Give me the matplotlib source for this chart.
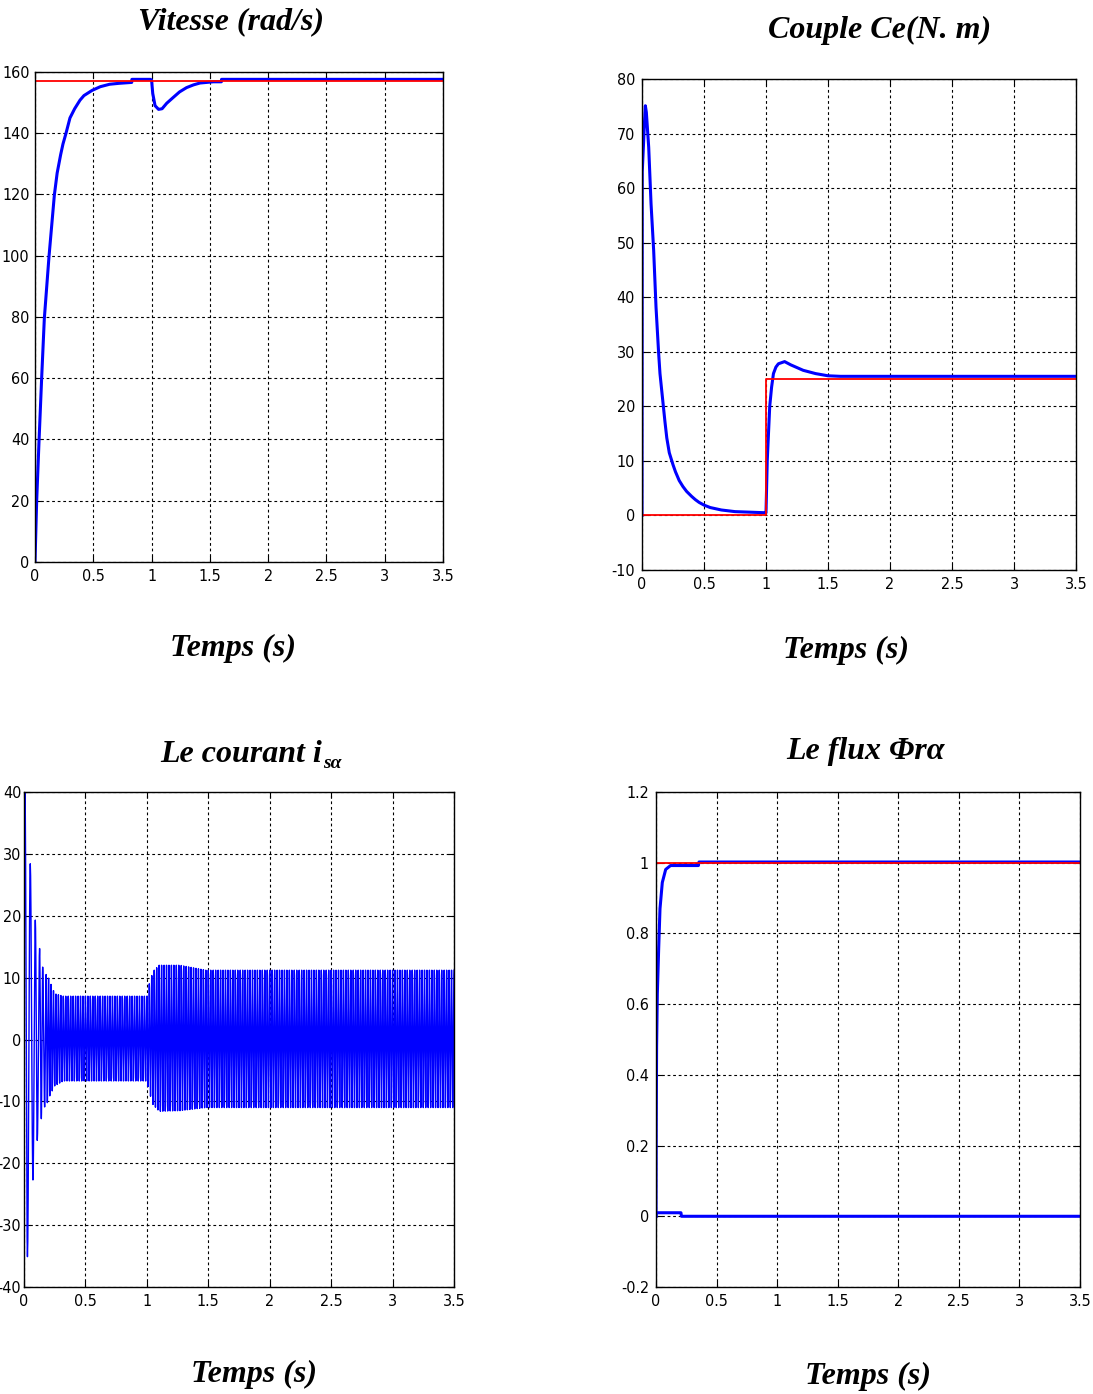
import numpy as np
import matplotlib
matplotlib.use('Agg')
import matplotlib.pyplot as plt
from matplotlib import font_manager

W, H = 1093, 1394

# ---- vitesse (rad/s) ----
t_w = [0, 0.014, 0.034, 0.057, 0.08, 0.12, 0.166, 0.19, 0.22, 0.24, 0.266, 0.30, 0.34,
       0.386, 0.42, 0.49, 0.56, 0.64, 0.72, 0.83, 0.831, 0.99, 1.0, 1.01, 1.03, 1.06,
       1.09, 1.13, 1.186, 1.24, 1.30, 1.36, 1.415, 1.53, 1.599, 1.6, 3.5]
w = [0, 19.6, 39, 60, 79.5, 99.7, 119.8, 127, 133, 136.5, 140, 145, 148,
     150.8, 152.3, 154, 155.2, 156, 156.3, 156.6, 157.6, 157.6, 157.4, 153, 149, 147.8,
     148, 149.8, 151.7, 153.5, 154.9, 155.8, 156.4, 156.8, 156.8, 157.6, 157.6]
t_wref = [0, 3.5]
w_ref = [157, 157]

# ---- couple Ce (N.m) ----
t_ce = [0, 0.002, 0.02, 0.027, 0.035, 0.054, 0.073, 0.094, 0.113, 0.134, 0.145, 0.17,
        0.185, 0.20, 0.22, 0.25, 0.27, 0.30, 0.33, 0.36, 0.40, 0.43, 0.46, 0.5, 0.55,
        0.64, 0.75, 0.99, 1.0, 1.01, 1.02, 1.03, 1.045, 1.06, 1.08, 1.1, 1.15, 1.2,
        1.25, 1.3, 1.35, 1.4, 1.45, 1.5, 1.6, 3.5]
ce = [0, 63, 72, 75.1, 73.9, 67.5, 57.1, 48.6, 38.2, 29.8, 26, 20.5,
      17.2, 14.2, 11.5, 9.3, 8.0, 6.4, 5.3, 4.4, 3.5, 2.9, 2.4, 1.9, 1.45,
      1.0, 0.7, 0.5, 0.5, 10, 15, 20, 23.5, 26, 27.2, 27.8, 28.2, 27.6,
      27.1, 26.6, 26.3, 26.0, 25.8, 25.6, 25.5, 25.5]
t_ceref = [0, 1.0, 1.0, 3.5]
ce_ref = [0, 0, 25, 25]

# ---- courant isa (A) : crêtes du transitoire + enveloppe ----
pk_t = [0.0, 0.008, 0.028, 0.051, 0.073, 0.092, 0.108, 0.127, 0.141, 0.152, 0.168]
pk_v = [10.0, 39.8, -35.1, 28.4, -22.7, 19.3, -16.3, 14.7, -12.8, 11.7, -10.9]
env_t = [0.18, 0.2, 0.25, 0.32, 1.0, 1.02, 1.05, 1.1, 1.27, 1.48, 3.5]
env_hi = [10.5, 9.9, 7.4, 7.0, 7.0, 9.0, 11.0, 12.0, 12.0, 11.2, 11.2]
env_lo = [-10.9, -9.5, -7.5, -6.7, -6.7, -8.5, -10.5, -11.6, -11.5, -11.0, -11.0]
f_elec = 50.0

# ---- flux ----
t_fa = [0, 0.002, 0.005, 0.011, 0.022, 0.033, 0.052, 0.08, 0.12, 0.35, 0.355, 3.5]
fa = [0, 0.26, 0.48, 0.63, 0.756, 0.87, 0.944, 0.981, 0.992, 0.992, 1.002, 1.002]
t_fb = [0, 0.003, 0.206, 0.21, 3.5]
fb = [0, 0.01, 0.01, 0.0, 0.0]
t_fref = [0, 3.5]
f_ref = [1, 1]

xticks = [0, 0.5, 1, 1.5, 2, 2.5, 3, 3.5]
xlabels = ['0', '0.5', '1', '1.5', '2', '2.5', '3', '3.5']

names = {f.name for f in font_manager.fontManager.ttflist}
narrow = [n for n in ['Liberation Sans Narrow', 'Arial Narrow', 'DejaVu Sans'] if n in names]
tick_font = dict(family=narrow, size=11.5, stretch='condensed')
title_font = dict(family=['Liberation Serif', 'DejaVu Serif'], weight='bold', style='italic', size=23)


def build_current():
    ts = list(pk_t)
    vs = list(pk_v)
    half = 0.5 / f_elec
    t = 0.18
    sign = 1
    while t <= 3.5 + 1e-9:
        ts.append(t)
        vs.append(np.interp(t, env_t, env_hi) if sign > 0 else np.interp(t, env_t, env_lo))
        sign = -sign
        t += half
    tt, yy = [], []
    for k in range(len(ts) - 1):
        s = np.linspace(0, 1, 8, endpoint=False)
        a, b = vs[k], vs[k + 1]
        tt.extend(ts[k] + s * (ts[k + 1] - ts[k]))
        yy.extend((a + b) / 2 + (a - b) / 2 * np.cos(np.pi * s))
    tt.append(ts[-1])
    yy.append(vs[-1])
    return np.array(tt), np.array(yy)


def make_ax(fig, l, r, t, b):
    return fig.add_axes([l / W, 1 - b / H, (r - l) / W, (b - t) / H])


def style(ax, ylim, yticks, ylabels, ypad=5):
    ax.set_xlim(0, 3.5)
    ax.set_ylim(*ylim)
    ax.set_xticks(xticks)
    ax.set_xticklabels(xlabels, fontdict=tick_font)
    ax.set_yticks(yticks)
    ax.set_yticklabels(ylabels, fontdict=tick_font)
    ax.tick_params(direction='in', length=4, top=True, right=True, pad=5, width=0.8)
    ax.tick_params(axis='y', pad=ypad)
    ax.grid(True, color='black', linestyle=(0, (2.5, 2.5)), linewidth=0.8)
    ax.set_axisbelow(True)
    for s in ax.spines.values():
        s.set_linewidth(1.0)


fig = plt.figure(figsize=(W / 100, H / 100), dpi=100)

# Vitesse
ax1 = make_ax(fig, 35, 443, 72, 562)
ax1.plot(t_w, w, color='#0000ff', lw=2.2)
ax1.plot(t_wref, w_ref, color='#ff0000', lw=1.3)
style(ax1, (0, 160), range(0, 161, 20), [str(v) for v in range(0, 161, 20)], ypad=4)

# Couple
ax2 = make_ax(fig, 642, 1076, 79, 570)
ax2.plot(t_ce, ce, color='#0000ff', lw=2.2)
ax2.plot(t_ceref, ce_ref, color='#ff0000', lw=1.3)
style(ax2, (-10, 80), range(-10, 81, 10), [str(v) for v in range(-10, 81, 10)])

# Courant
ax3 = make_ax(fig, 24, 454, 792, 1287)
ti, yi = build_current()
ax3.plot(ti, yi, color='#0000ff', lw=1.0)
style(ax3, (-40, 40), range(-40, 41, 10), [str(v) for v in range(-40, 41, 10)], ypad=2)

# Flux
ax4 = make_ax(fig, 656, 1080, 792, 1287)
ax4.plot(t_fa, fa, color='#0000ff', lw=2.2)
ax4.plot(t_fb, fb, color='#0000ff', lw=2.2)
ax4.plot(t_fref, f_ref, color='#ff0000', lw=1.3)
fy = [-0.2, 0, 0.2, 0.4, 0.6, 0.8, 1.0, 1.2]
style(ax4, (-0.2, 1.2), fy, ['-0.2', '0', '0.2', '0.4', '0.6', '0.8', '1', '1.2'])


def ftext(x, y, s, **kw):
    return fig.text(x / W, 1 - y / H, s, ha='center', va='center', **kw)


ftext(231, 22, 'Vitesse (rad/s)', **title_font)
ftext(880, 30, 'Couple Ce(N. m)', **title_font)
ftext(865, 751, 'Le flux Φrα', **title_font)
main = fig.text(160 / W, 1 - 755 / H, 'Le courant i', ha='left', va='center', **title_font)
renderer = fig.canvas.get_renderer()
bb = main.get_window_extent(renderer)
sub_font = dict(title_font)
sub_font['size'] = 14
fig.text(bb.x1 / W + 1.0 / W, 1 - 763 / H, 'sα', ha='left', va='center', **sub_font)

for x, y in [(233, 648), (846, 650), (254, 1374), (868, 1376)]:
    ftext(x, y, 'Temps (s)', **title_font)

fig.savefig('out.png', dpi=100)
